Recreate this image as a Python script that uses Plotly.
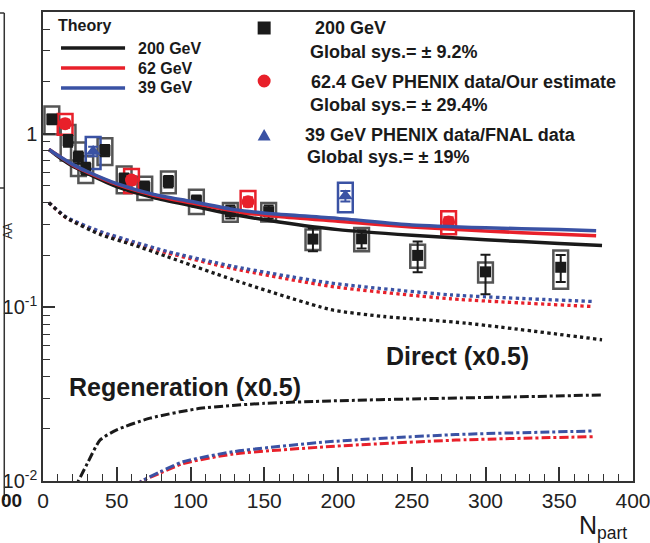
import plotly.graph_objects as go

# ---------------- data ----------------
npart_200 = [6, 17, 24, 29, 42, 55, 69, 85, 104, 127, 153, 183, 216, 254, 300, 351]
raa_200 = [1.21, 0.91, 0.73, 0.63, 0.80, 0.55, 0.49, 0.53, 0.41, 0.355, 0.355, 0.247, 0.248, 0.199, 0.16, 0.17]
sys_200 = [0.22, 0.21, 0.16, 0.11, 0.14, 0.097, 0.075, 0.076, 0.065, 0.044, 0.043, 0.033, 0.038, 0.03, 0.021, 0.042]
stat_200 = [0.08, 0.07, 0.06, 0.05, 0.06, 0.04, 0.04, 0.04, 0.03, 0.03, 0.03, 0.037, 0.03, 0.04, 0.041, 0.03]

npart_62 = [15, 60, 139, 275]
raa_62 = [1.14, 0.54, 0.405, 0.31]
sys_62 = [0.155, 0.085, 0.062, 0.047]
stat_62 = [0.06, 0.03, 0.025, 0.02]

npart_39 = [34, 205]
raa_39 = [0.79, 0.437]
sys_39 = [0.165, 0.085]
stat_39 = [0.05, 0.03]

# theory: total
npart_th_200 = [4, 10, 20, 30, 50, 75, 100, 130, 160, 200, 250, 300, 350, 379]
total_200 = [0.81, 0.74, 0.65, 0.59, 0.495, 0.428, 0.385, 0.341, 0.31, 0.28, 0.26, 0.245, 0.233, 0.227]
npart_th_low = [4, 10, 20, 30, 50, 75, 100, 130, 160, 200, 250, 300, 350, 375]
total_62 = [0.81, 0.75, 0.66, 0.60, 0.51, 0.442, 0.40, 0.358, 0.333, 0.313, 0.29, 0.275, 0.263, 0.258]
total_39 = [0.81, 0.75, 0.665, 0.605, 0.515, 0.447, 0.408, 0.365, 0.343, 0.325, 0.298, 0.287, 0.28, 0.276]

# theory: direct (x0.5)
npart_dir_200 = [4, 16, 39, 61, 84, 129, 195, 231, 287, 379]
direct_200 = [0.40, 0.327, 0.262, 0.229, 0.196, 0.144, 0.097, 0.0885, 0.081, 0.065]
npart_dir_low = [4, 16, 39, 61, 84, 129, 195, 276, 373]
direct_62 = [0.40, 0.327, 0.27, 0.235, 0.206, 0.167, 0.132, 0.112, 0.101]
direct_39 = [0.40, 0.33, 0.273, 0.239, 0.21, 0.172, 0.138, 0.118, 0.108]

# theory: regeneration (x0.5)
npart_reg_200 = [20, 24, 30, 38.7, 50, 72.6, 106.5, 150, 195, 260, 320, 379]
regen_200 = [0.0085, 0.0100, 0.0126, 0.0172, 0.0197, 0.023, 0.0262, 0.028, 0.0289, 0.0298, 0.0305, 0.0313]
npart_reg_low = [62, 67, 79.4, 95, 129, 195, 280, 373]
regen_62 = [0.0093, 0.0100, 0.0111, 0.0126, 0.0143, 0.0158, 0.0172, 0.018]
regen_39 = [0.0093, 0.0100, 0.0113, 0.0129, 0.01475, 0.01686, 0.0185, 0.0194]

# axis ticks
y_tickvals = [0.01, 0.1, 1]
y_ticktext = ["10<sup>-2</sup>", "10<sup>-1</sup>", "1"]
y_minor_vals = [k * 10 ** e for e in (-2, -1, 0) for k in range(2, 10)]

BLACK = "#1a1a1a"
RED = "#e8202a"
BLUE = "#3a52a4"
GRAY = "#555555"
FONT = "Liberation Sans"

fig = go.Figure()


def sys_boxes(n, r, s, color):
    fig.add_trace(go.Bar(
        x=n, y=[2 * v for v in s], base=[a - b for a, b in zip(r, s)],
        width=10, marker=dict(color="rgba(0,0,0,0)", line=dict(color=color, width=2.5)),
        showlegend=False, hoverinfo="skip"))


sys_boxes(npart_200, raa_200, sys_200, GRAY)
sys_boxes(npart_62, raa_62, sys_62, RED)
sys_boxes(npart_39, raa_39, sys_39, BLUE)

fig.add_trace(go.Scatter(x=npart_200, y=raa_200, mode="markers",
                         marker=dict(symbol="square", size=11, color=BLACK),
                         error_y=dict(type="data", array=stat_200, color=BLACK, thickness=2, width=5),
                         showlegend=False))
fig.add_trace(go.Scatter(x=npart_62, y=raa_62, mode="markers",
                         marker=dict(symbol="circle", size=13, color=RED),
                         error_y=dict(type="data", array=stat_62, color=RED, thickness=2, width=5),
                         showlegend=False))
fig.add_trace(go.Scatter(x=npart_39, y=raa_39, mode="markers",
                         marker=dict(symbol="triangle-up", size=13, color=BLUE),
                         error_y=dict(type="data", array=stat_39, color=BLUE, thickness=2, width=5),
                         showlegend=False))


def line(n, v, color, dash, w):
    fig.add_trace(go.Scatter(x=n, y=v, mode="lines",
                             line=dict(color=color, width=w, dash=dash, shape="spline", smoothing=0.6),
                             showlegend=False, hoverinfo="skip"))


DASHDOT = "9px,3px,3px,3px"
line(npart_reg_low, regen_62, RED, DASHDOT, 3)
line(npart_reg_low, regen_39, BLUE, DASHDOT, 3)
line(npart_reg_200, regen_200, BLACK, DASHDOT, 3)
line(npart_dir_low, direct_62, RED, "dot", 3.3)
line(npart_dir_low, direct_39, BLUE, "dot", 3.3)
line(npart_dir_200, direct_200, BLACK, "dot", 3.3)
line(npart_th_200, total_200, BLACK, "solid", 3.5)
line(npart_th_low, total_62, RED, "solid", 3.5)
line(npart_th_low, total_39, BLUE, "solid", 3.5)

# ---------------- layout helpers (pixel -> paper) ----------------
L, R, T, B = 43, 632.6, 12, 481


def px(x):
    return (x - L) / (R - L)


def py(y):
    return (B - y) / (B - T)


annotations = []
shapes = []


def text(x, y, s, size=15, anchor="left", bold=True, color="#1a1a1a", angle=0):
    annotations.append(dict(x=px(x), y=py(y), xref="paper", yref="paper", text=("<b>%s</b>" % s) if bold else s,
                            showarrow=False, xanchor=anchor, yanchor="middle", textangle=angle,
                            font=dict(family=FONT, size=size, color=color)))


# left legend (Theory)
text(56, 26, "Theory", 16)
for yy, col, lab in [(48, BLACK, "200 GeV"), (68, RED, "62 GeV"), (88, BLUE, "39 GeV")]:
    shapes.append(dict(type="line", xref="paper", yref="paper", x0=px(61), x1=px(125), y0=py(yy), y1=py(yy),
                       line=dict(color=col, width=3.5)))
    text(136, yy, lab, 16)

# right legend (data)
shapes.append(dict(type="rect", xref="paper", yref="paper", xsizemode="pixel", ysizemode="pixel",
                   xanchor=px(264), yanchor=py(28), x0=-6.5, x1=6.5, y0=-6.5, y1=6.5,
                   fillcolor=BLACK, line=dict(width=0)))
shapes.append(dict(type="circle", xref="paper", yref="paper", xsizemode="pixel", ysizemode="pixel",
                   xanchor=px(264), yanchor=py(81), x0=-6.5, x1=6.5, y0=-6.5, y1=6.5,
                   fillcolor=RED, line=dict(width=0)))
shapes.append(dict(type="path", xref="paper", yref="paper", xsizemode="pixel", ysizemode="pixel",
                   xanchor=px(264), yanchor=py(135), path="M-6.5,-5.5 L6.5,-5.5 L0,6 Z",
                   fillcolor=BLUE, line=dict(width=0)))
LS = 18
text(313, 28, "200 GeV", LS)
text(308, 52, "Global sys.= ± 9.2%", LS)
text(309, 82, "62.4 GeV PHENIX data/Our estimate", LS)
text(308, 105, "Global sys.= ± 29.4%", LS)
text(303, 135, "39 GeV PHENIX data/FNAL data", LS)
text(305, 157, "Global sys.= ± 19%", LS)

# curve labels
text(457, 356, "Direct (x0.5)", 25, anchor="center")
text(185, 387, "Regeneration (x0.5)", 25, anchor="center")

# axis title
annotations.append(dict(x=px(629), y=py(527), xref="paper", yref="paper", text="N<sub>part</sub>",
                        showarrow=False, xanchor="right", yanchor="middle",
                        font=dict(family=FONT, size=25, color="#1a1a1a")))

# remnants of the neighbouring panel on the left
shapes.append(dict(type="line", xref="paper", yref="paper", x0=px(4.3), x1=px(4.3), y0=py(13), y1=py(500),
                   line=dict(color="#333", width=1.5)))
shapes.append(dict(type="line", xref="paper", yref="paper", x0=px(-2), x1=px(4.3), y0=py(13), y1=py(13),
                   line=dict(color="#333", width=1.5)))
shapes.append(dict(type="line", xref="paper", yref="paper", x0=px(-2), x1=px(4.3), y0=py(188), y1=py(188),
                   line=dict(color="#333", width=1.5)))
text(8, 231, "AA", 12, anchor="center", bold=False, angle=-90)
annotations.append(dict(x=px(24), y=py(500), xref="paper", yref="paper", text="<b>00</b>", showarrow=False,
                        xanchor="right", yanchor="middle", font=dict(family=FONT, size=19, color="#1a1a1a")))

fig.update_layout(
    width=650, height=543,
    margin=dict(l=L, r=650 - R, t=T, b=543 - B, autoexpand=False),
    paper_bgcolor="white", plot_bgcolor="white",
    barmode="overlay", showlegend=False,
    annotations=annotations, shapes=shapes,
    font=dict(family=FONT, color="#1a1a1a"),
)
fig.update_xaxes(range=[0, 400], dtick=50, tick0=0, ticks="inside", ticklen=14, tickwidth=1.5, tickcolor="#333",
                 showline=True, linecolor="#333", linewidth=1.5, mirror=True, showgrid=False, zeroline=False,
                 automargin=False, ticklabeloverflow="allow",
                 tickfont=dict(family=FONT, size=21, color="#222"),
                 minor=dict(dtick=10, ticks="inside", ticklen=7, tickwidth=1.2, tickcolor="#333", showgrid=False))
fig.update_yaxes(type="log", range=[-2, 0.7], tickmode="array", tickvals=y_tickvals, ticktext=y_ticktext,
                 ticks="inside", ticklen=12, tickwidth=1.5, tickcolor="#333",
                 showline=True, linecolor="#333", linewidth=1.5, mirror=True, ticklabeloverflow="allow",
                 automargin=False, showgrid=False, zeroline=False, tickfont=dict(family=FONT, size=20, color="#222"),
                 minor=dict(tickmode="array", tickvals=y_minor_vals, ticks="inside", ticklen=7, tickwidth=1.2,
                            tickcolor="#333", showgrid=False))

fig.write_html("out.html")
